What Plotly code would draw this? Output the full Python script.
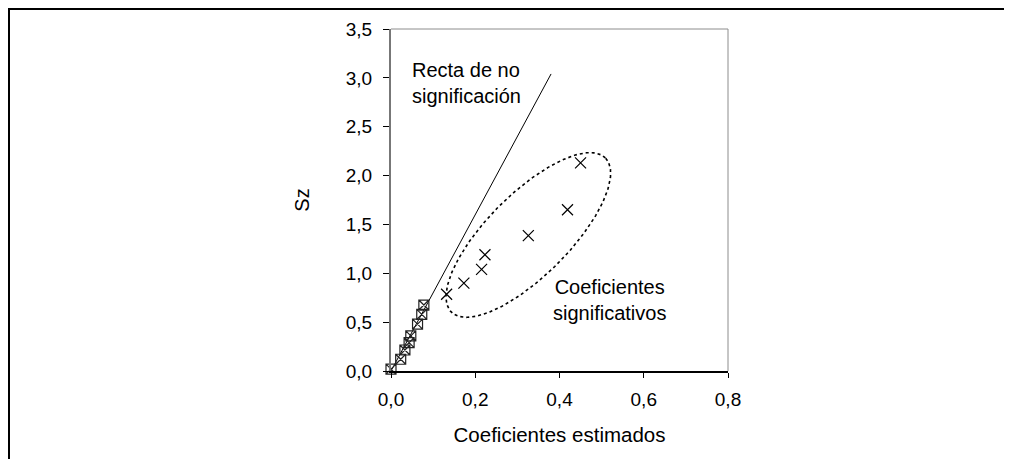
import numpy as np
import plotly.graph_objects as go

# Non-significant coefficients (boxed markers)
ns_x = [0.0, 0.023, 0.033, 0.043, 0.047, 0.063, 0.073, 0.078]
ns_y = [0.02, 0.12, 0.215, 0.29, 0.36, 0.48, 0.58, 0.675]

# Significant coefficients (x markers)
sig_x = [0.132, 0.173, 0.215, 0.223, 0.326, 0.419, 0.45]
sig_y = [0.785, 0.90, 1.04, 1.19, 1.385, 1.65, 2.13]

# Line of non-significance
line_x = [0.0, 0.38]
line_y = [0.0, 3.04]

x_ticks = [0.0, 0.2, 0.4, 0.6, 0.8]
y_ticks = [0.0, 0.5, 1.0, 1.5, 2.0, 2.5, 3.0, 3.5]

# page offset (body margin) and plot area in screen pixels
OFF = 8
W, H = 1012 - OFF, 459 - OFF
L, R, T, B = 391 - OFF, 728 - OFF, 29 - OFF, 371 - OFF
XR = [0, 0.8]
YR = [0, 3.5]
pxx = (R - L) / (XR[1] - XR[0])
pxy = (B - T) / (YR[1] - YR[0])

FONT = "Arial, Liberation Sans, sans-serif"

fig = go.Figure()

# dotted ellipse around the significant coefficients (centre in data units, axes in px)
cx, cy = 0.326, 1.392
a_px, b_px, ang = 109, 41, np.deg2rad(45)
t = np.linspace(0, 2 * np.pi, 240)
dxp = a_px * np.cos(t) * np.cos(ang) - b_px * np.sin(t) * np.sin(ang)
dyp = a_px * np.cos(t) * np.sin(ang) + b_px * np.sin(t) * np.cos(ang)
fig.add_trace(go.Scatter(x=cx + dxp / pxx, y=cy + dyp / pxy, mode="lines",
                         line=dict(color="black", width=1.6, dash="dot"),
                         hoverinfo="skip", showlegend=False))

fig.add_trace(go.Scatter(x=line_x, y=line_y, mode="lines",
                         line=dict(color="black", width=1), showlegend=False))

fig.add_trace(go.Scatter(x=ns_x, y=ns_y, mode="markers",
                         marker=dict(symbol="square-x-open", size=10, color="#222",
                                     line=dict(width=1.2, color="#222")),
                         showlegend=False, cliponaxis=False))

fig.add_trace(go.Scatter(x=sig_x, y=sig_y, mode="markers",
                         marker=dict(symbol="x-thin-open", size=11, color="black",
                                     line=dict(width=1.2, color="black")),
                         showlegend=False, cliponaxis=False))

fig.add_annotation(x=0.045, y=2.95, xref="x", yref="y", text="Recta de no<br>significación",
                   showarrow=False, xanchor="left", yanchor="middle", align="left",
                   font=dict(size=20, color="black", family=FONT))
fig.add_annotation(x=0.518, y=0.727, xref="x", yref="y", text="Coeficientes<br>significativos",
                   showarrow=False, xanchor="center", yanchor="middle", align="center",
                   font=dict(size=20, color="black", family=FONT))

def px2paper_x(p):
    return (p - L) / (R - L)

def px2paper_y(p):
    return (B - p) / (B - T)

# outer chart border (left and top), as close to the page corner as possible
fig.add_shape(type="line", xref="paper", yref="paper",
              x0=px2paper_x(1), x1=px2paper_x(1), y0=px2paper_y(0), y1=px2paper_y(H + 5),
              line=dict(color="black", width=2))
fig.add_shape(type="line", xref="paper", yref="paper",
              x0=px2paper_x(0), x1=px2paper_x(W + 5), y0=px2paper_y(1), y1=px2paper_y(1),
              line=dict(color="black", width=2))
# plot area border top/right (gray)
fig.add_shape(type="line", xref="paper", yref="paper", x0=0, x1=1, y0=1, y1=1,
              line=dict(color="#8c8c8c", width=1))
fig.add_shape(type="line", xref="paper", yref="paper", x0=1, x1=1, y0=0, y1=1,
              line=dict(color="#8c8c8c", width=1))

fig.update_layout(
    width=W, height=H,
    margin=dict(l=L, r=W - R, t=T, b=H - B, pad=0),
    paper_bgcolor="white", plot_bgcolor="white",
    separators=",.",
    font=dict(family=FONT, size=19, color="black"),
    showlegend=False,
)
fig.update_xaxes(range=XR, tickvals=x_ticks, tickformat=".1f", showgrid=False, zeroline=False,
                 showline=True, linecolor="black", linewidth=1.5, ticks="outside",
                 ticklen=5, tickcolor="black", ticklabelstandoff=5,
                 title=dict(text="Coeficientes estimados", font=dict(size=20.5), standoff=19))
fig.update_yaxes(range=YR, tickvals=y_ticks, tickformat=".1f", showgrid=False, zeroline=False,
                 showline=True, linecolor="#777", linewidth=2, ticks="outside",
                 ticklen=6, tickcolor="black", ticklabelstandoff=7,
                 title=dict(text="Sz", font=dict(size=20), standoff=31))

fig.write_html("out.html")
